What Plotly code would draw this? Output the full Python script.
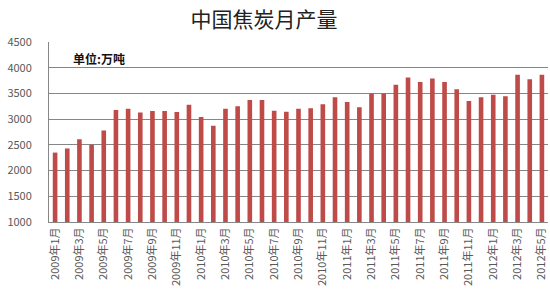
import plotly.graph_objects as go

months = [f"{y}年{m}月" for y in (2009, 2010, 2011, 2012) for m in range(1, 13)][:41]
values = [2350, 2430, 2610, 2500, 2780, 3180, 3200, 3130, 3160, 3160, 3140, 3280,
          3040, 2870, 3200, 3250, 3370, 3370, 3165, 3145, 3200, 3210, 3290, 3425,
          3335, 3230, 3500, 3500, 3670, 3810, 3720, 3790, 3720, 3580, 3355, 3425,
          3475, 3445, 3865, 3775, 3865]
tick_labels = months[::2]
y_ticks = [1000, 1500, 2000, 2500, 3000, 3500, 4000, 4500]

fig = go.Figure(go.Bar(x=months, y=values, marker=dict(color="#BE4B48", line=dict(width=0)), width=0.38))

fig.update_layout(
    width=550, height=300,
    margin=dict(l=49, r=2, t=42, b=78),
    paper_bgcolor="white", plot_bgcolor="white",
    showlegend=False,
    font=dict(family="Noto Sans CJK SC, Noto Sans", color="#595959"),
    title=dict(text="中国焦炭月产量", x=0.48, xanchor="center", y=0.935, yanchor="middle",
               font=dict(size=21, color="#222222", family="Noto Sans CJK SC")),
    annotations=[dict(text="<b>单位:万吨</b>", xref="paper", yref="paper", x=0.045, y=0.91,
                      xanchor="left", yanchor="middle", showarrow=False,
                      font=dict(size=12, color="#111111", family="Noto Sans CJK SC"))],
    bargap=0.6,
)
fig.update_xaxes(type="category", tickmode="array", tickvals=tick_labels, ticktext=tick_labels,
                 tickangle=-90, tickfont=dict(size=11, color="#595959"),
                 showline=True, linecolor="#868686", linewidth=1, showgrid=False,
                 range=[-0.5, len(months) - 0.5])
fig.update_yaxes(range=[1000, 4500], tickvals=y_ticks, showgrid=True, gridcolor="#868686", gridwidth=1,
                 showline=True, linecolor="#868686", linewidth=1, mirror=False,
                 tickfont=dict(size=11, color="#595959"), ticks="", ticklabelstandoff=14)

fig.write_html("out.html")
